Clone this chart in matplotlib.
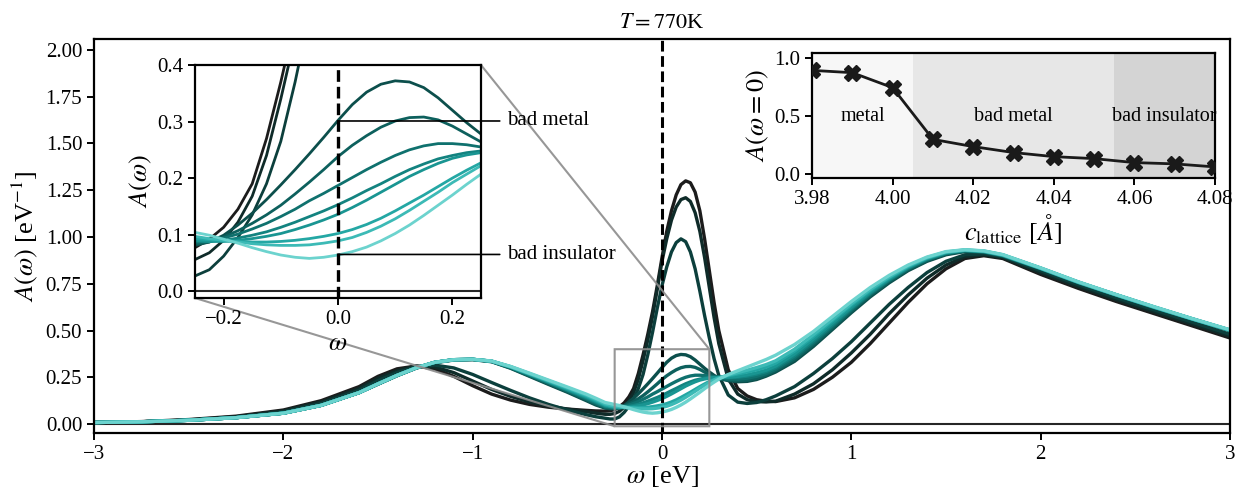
import numpy as np
import matplotlib
matplotlib.use('Agg')
import matplotlib.pyplot as plt

plt.rcParams['font.family'] = 'serif'
plt.rcParams['font.serif'] = ['Liberation Serif', 'DejaVu Serif']
plt.rcParams['mathtext.fontset'] = 'stix'

# frequency grid [eV]
omega = [-3.0, -2.75, -2.5, -2.25, -2.0, -1.8, -1.6,
         -1.5, -1.4, -1.3, -1.2, -1.1, -1.0, -0.9, -0.8, -0.7, -0.6, -0.5, -0.4, -0.35,
         -0.3, -0.275, -0.25, -0.225, -0.2, -0.175, -0.15, -0.125, -0.1, -0.075, -0.05, -0.025,
         0.0, 0.025, 0.05, 0.075, 0.1, 0.125, 0.15, 0.175, 0.2, 0.225, 0.25, 0.275, 0.3,
         0.35, 0.4, 0.45, 0.5, 0.55, 0.6,
         0.7, 0.8, 0.9, 1.0, 1.1, 1.2, 1.3, 1.4, 1.5, 1.6, 1.7, 1.8,
         2.0, 2.2, 2.4, 2.6, 2.8, 3.0]

# spectral functions, one per lattice constant
A_398 = [0.008, 0.013, 0.024, 0.042, 0.075, 0.125, 0.2,
         0.255, 0.295, 0.31, 0.295, 0.255, 0.205, 0.16, 0.128, 0.105, 0.09, 0.08, 0.073, 0.07,
         0.069, 0.071, 0.077, 0.092, 0.113, 0.145, 0.19, 0.27, 0.37, 0.48, 0.6, 0.74,
         0.89, 1.03, 1.14, 1.225, 1.28, 1.3, 1.29, 1.24, 1.14, 0.99, 0.82, 0.65, 0.5,
         0.29, 0.19, 0.15, 0.13, 0.122, 0.12,
         0.14, 0.185, 0.25, 0.33, 0.43, 0.54, 0.65, 0.75, 0.83, 0.885, 0.9, 0.885,
         0.8, 0.725, 0.655, 0.59, 0.525, 0.46]
A_399 = [0.008, 0.012, 0.022, 0.039, 0.07, 0.118, 0.19,
         0.245, 0.285, 0.31, 0.305, 0.275, 0.23, 0.185, 0.148, 0.118, 0.097, 0.08, 0.066, 0.058,
         0.052, 0.052, 0.056, 0.068, 0.09, 0.122, 0.168, 0.24, 0.34, 0.45, 0.575, 0.72,
         0.87, 0.99, 1.09, 1.16, 1.2, 1.21, 1.19, 1.13, 1.03, 0.89, 0.73, 0.57, 0.43,
         0.24, 0.16, 0.13, 0.12, 0.118, 0.122,
         0.16, 0.215, 0.29, 0.38, 0.48, 0.59, 0.69, 0.78, 0.85, 0.895, 0.905, 0.89,
         0.81, 0.735, 0.665, 0.6, 0.535, 0.47]
A_400 = [0.008, 0.012, 0.021, 0.036, 0.065, 0.11, 0.18,
         0.232, 0.275, 0.305, 0.315, 0.3, 0.265, 0.222, 0.18, 0.14, 0.105, 0.075, 0.05, 0.039,
         0.031, 0.027, 0.027, 0.038, 0.062, 0.095, 0.135, 0.19, 0.265, 0.37, 0.49, 0.62,
         0.74, 0.84, 0.92, 0.97, 0.99, 0.975, 0.92, 0.83, 0.71, 0.58, 0.46, 0.35, 0.26,
         0.155, 0.117, 0.11, 0.115, 0.13, 0.15,
         0.2, 0.27, 0.35, 0.44, 0.54, 0.64, 0.73, 0.81, 0.87, 0.905, 0.91, 0.895,
         0.82, 0.745, 0.675, 0.61, 0.545, 0.48]
A_401 = [0.008, 0.012, 0.02, 0.034, 0.058, 0.1, 0.168,
         0.213, 0.258, 0.298, 0.328, 0.342, 0.344, 0.333, 0.298, 0.255, 0.212, 0.17, 0.125, 0.102,
         0.085, 0.082, 0.081, 0.087, 0.099, 0.117, 0.138, 0.162, 0.188, 0.215, 0.243, 0.272,
         0.302, 0.33, 0.352, 0.366, 0.372, 0.37, 0.36, 0.342, 0.32, 0.298, 0.278, 0.26, 0.246,
         0.232, 0.226, 0.228, 0.238, 0.256, 0.278,
         0.335, 0.415, 0.505, 0.595, 0.68, 0.755, 0.82, 0.87, 0.905, 0.922, 0.918, 0.898,
         0.83, 0.755, 0.688, 0.622, 0.56, 0.5]
A_402 = [0.008, 0.012, 0.02, 0.034, 0.058, 0.1, 0.168,
         0.214, 0.259, 0.299, 0.329, 0.343, 0.345, 0.334, 0.3, 0.258, 0.216, 0.174, 0.13, 0.107,
         0.088, 0.085, 0.083, 0.087, 0.096, 0.107, 0.12, 0.135, 0.152, 0.172, 0.193, 0.215,
         0.238, 0.258, 0.275, 0.29, 0.301, 0.307, 0.308, 0.303, 0.292, 0.278, 0.264, 0.252, 0.242,
         0.235, 0.232, 0.235, 0.245, 0.262, 0.285,
         0.345, 0.425, 0.513, 0.603, 0.688, 0.762, 0.826, 0.875, 0.909, 0.925, 0.92, 0.9,
         0.831, 0.756, 0.689, 0.623, 0.561, 0.5]
A_403 = [0.008, 0.012, 0.02, 0.034, 0.058, 0.1, 0.168,
         0.214, 0.259, 0.3, 0.33, 0.344, 0.346, 0.335, 0.302, 0.261, 0.22, 0.178, 0.135, 0.112,
         0.091, 0.088, 0.086, 0.088, 0.094, 0.101, 0.11, 0.12, 0.132, 0.145, 0.16, 0.173,
         0.187, 0.201, 0.215, 0.228, 0.24, 0.25, 0.257, 0.261, 0.261, 0.259, 0.255, 0.25, 0.245,
         0.24, 0.24, 0.245, 0.255, 0.27, 0.293,
         0.355, 0.435, 0.522, 0.611, 0.695, 0.768, 0.831, 0.879, 0.912, 0.927, 0.921, 0.901,
         0.832, 0.757, 0.69, 0.624, 0.562, 0.501]
A_404 = [0.008, 0.012, 0.02, 0.034, 0.058, 0.1, 0.168,
         0.215, 0.26, 0.3, 0.33, 0.344, 0.346, 0.336, 0.304, 0.264, 0.224, 0.182, 0.14, 0.117,
         0.095, 0.092, 0.088, 0.088, 0.09, 0.094, 0.099, 0.105, 0.113, 0.122, 0.132, 0.142,
         0.153, 0.165, 0.178, 0.19, 0.203, 0.215, 0.225, 0.234, 0.24, 0.245, 0.248, 0.25, 0.25,
         0.248, 0.25, 0.256, 0.266, 0.28, 0.302,
         0.365, 0.445, 0.53, 0.618, 0.7, 0.772, 0.834, 0.882, 0.914, 0.928, 0.922, 0.902,
         0.832, 0.757, 0.69, 0.624, 0.562, 0.501]
A_405 = [0.008, 0.012, 0.02, 0.034, 0.058, 0.1, 0.168,
         0.215, 0.26, 0.3, 0.33, 0.344, 0.346, 0.336, 0.305, 0.266, 0.226, 0.185, 0.145, 0.122,
         0.099, 0.094, 0.09, 0.088, 0.088, 0.09, 0.093, 0.097, 0.102, 0.109, 0.117, 0.126,
         0.136, 0.148, 0.161, 0.175, 0.189, 0.203, 0.215, 0.226, 0.235, 0.241, 0.245, 0.248, 0.25,
         0.25, 0.255, 0.263, 0.274, 0.288, 0.31,
         0.375, 0.455, 0.54, 0.625, 0.706, 0.777, 0.838, 0.885, 0.916, 0.929, 0.923, 0.903,
         0.833, 0.758, 0.69, 0.625, 0.562, 0.502]
A_406 = [0.008, 0.012, 0.02, 0.034, 0.058, 0.1, 0.168,
         0.215, 0.26, 0.3, 0.33, 0.344, 0.346, 0.336, 0.306, 0.268, 0.229, 0.19, 0.15, 0.127,
         0.103, 0.097, 0.093, 0.091, 0.089, 0.088, 0.087, 0.087, 0.088, 0.09, 0.093, 0.097,
         0.102, 0.109, 0.118, 0.129, 0.142, 0.156, 0.17, 0.185, 0.2, 0.214, 0.227, 0.238, 0.247,
         0.258, 0.268, 0.278, 0.29, 0.304, 0.325,
         0.39, 0.468, 0.552, 0.636, 0.714, 0.783, 0.842, 0.888, 0.918, 0.93, 0.924, 0.904,
         0.833, 0.758, 0.691, 0.625, 0.563, 0.502]
A_407 = [0.008, 0.012, 0.02, 0.034, 0.058, 0.1, 0.168,
         0.215, 0.26, 0.3, 0.33, 0.344, 0.346, 0.336, 0.307, 0.27, 0.232, 0.194, 0.155, 0.132,
         0.108, 0.102, 0.097, 0.093, 0.09, 0.087, 0.084, 0.082, 0.081, 0.081, 0.082, 0.085,
         0.089, 0.095, 0.104, 0.115, 0.128, 0.143, 0.159, 0.175, 0.192, 0.207, 0.222, 0.235, 0.246,
         0.262, 0.275, 0.288, 0.302, 0.318, 0.338,
         0.4, 0.478, 0.56, 0.643, 0.72, 0.787, 0.845, 0.89, 0.92, 0.931, 0.925, 0.905,
         0.834, 0.759, 0.691, 0.626, 0.563, 0.503]
A_408 = [0.008, 0.012, 0.02, 0.034, 0.058, 0.1, 0.168,
         0.215, 0.26, 0.3, 0.33, 0.344, 0.346, 0.337, 0.308, 0.272, 0.235, 0.198, 0.16, 0.138,
         0.115, 0.11, 0.104, 0.099, 0.092, 0.085, 0.077, 0.07, 0.064, 0.06, 0.058, 0.06,
         0.064, 0.07, 0.078, 0.089, 0.102, 0.117, 0.134, 0.152, 0.17, 0.189, 0.207, 0.224, 0.24,
         0.265, 0.285, 0.305, 0.325, 0.345, 0.368,
         0.425, 0.495, 0.575, 0.655, 0.73, 0.795, 0.85, 0.893, 0.922, 0.932, 0.926, 0.906,
         0.835, 0.76, 0.692, 0.627, 0.564, 0.504]

spectra = [A_398, A_399, A_400, A_401, A_402, A_403, A_404, A_405, A_406, A_407, A_408]

# A(omega=0) vs lattice constant
c_lattice = [3.98, 3.99, 4.00, 4.01, 4.02, 4.03, 4.04, 4.05, 4.06, 4.07, 4.08]
a_zero = [0.892, 0.872, 0.744, 0.301, 0.239, 0.188, 0.153, 0.136, 0.102, 0.091, 0.065]

colors = ['#1c1c1c', '#0f2b29', '#0c3f3c', '#0c4f4c', '#0d605d', '#0f716e',
          '#138380', '#199592', '#24a7a4', '#3cbab6', '#6cd3ce']

dash = (0, (3.5, 1.5))
tick_fs = 15
label_fs = 19

fig = plt.figure(figsize=(12.39, 5.0), dpi=100)
ax = fig.add_axes([0.0759, 0.134, 0.9168, 0.7874])

for A, col in zip(spectra, colors):
    ax.plot(omega, A, color=col, lw=2.4)
ax.axhline(0, color='0.15', lw=1.5, zorder=1)
ax.axvline(0, color='k', ls=dash, lw=2.2)
ax.set_xlim(-3, 3)
ax.set_ylim(-0.048, 2.057)
ax.set_yticks(np.arange(0, 2.01, 0.25))
ax.set_yticklabels(['%.2f' % v for v in np.arange(0, 2.01, 0.25)])
ax.set_xlabel(r'$\omega$ [eV]', fontsize=label_fs, labelpad=0)
ax.set_ylabel(r'$A(\omega)$ [eV$^{-1}$]', fontsize=label_fs, labelpad=4)
ax.set_title(r'$T=770$K', fontsize=16, pad=8)
ax.tick_params(labelsize=tick_fs, width=1.4, length=5)
for s in ax.spines.values():
    s.set_linewidth(1.6)

# zoomed inset around the Fermi level
axin = fig.add_axes([0.1574, 0.404, 0.2308, 0.466])
for A, col in zip(spectra, colors):
    axin.plot(omega, A, color=col, lw=2.0)
axin.axhline(0, color='0.15', lw=1.5)
axin.axvline(0, color='k', ls=dash, lw=2.4)
axin.set_xlim(-0.25, 0.25)
axin.set_ylim(-0.012, 0.4)
axin.set_xticks([-0.2, 0.0, 0.2])
axin.set_yticks([0.0, 0.1, 0.2, 0.3, 0.4])
axin.set_xlabel(r'$\omega$', fontsize=label_fs, labelpad=3)
axin.set_ylabel(r'$A(\omega)$', fontsize=label_fs, labelpad=2)
axin.tick_params(labelsize=tick_fs, width=1.4, length=5)
for s in axin.spines.values():
    s.set_linewidth(1.6)
axin.annotate('bad metal', xy=(0, a_zero[3]), xytext=(0.295, a_zero[3]),
              fontsize=15, va='center', annotation_clip=False,
              arrowprops=dict(arrowstyle='-', color='k', lw=1.2, shrinkA=3, shrinkB=0))
axin.annotate('bad insulator', xy=(0, a_zero[-1]), xytext=(0.295, a_zero[-1]),
              fontsize=15, va='center', annotation_clip=False,
              arrowprops=dict(arrowstyle='-', color='k', lw=1.2, shrinkA=3, shrinkB=0))
ax.indicate_inset_zoom(axin, edgecolor='0.55', lw=1.5, alpha=0.9)

# A(0) vs lattice constant inset
ax2 = fig.add_axes([0.6554, 0.644, 0.3252, 0.251])
ax2.axvspan(3.98, 4.005, color='#f7f7f7', lw=0)
ax2.axvspan(4.005, 4.055, color='#e7e7e7', lw=0)
ax2.axvspan(4.055, 4.08, color='#d4d4d4', lw=0)
ax2.plot(c_lattice, a_zero, color='#1a1a1a', lw=2, marker='X', ms=12, zorder=3)
ax2.text(3.9925, 0.5, 'metal', ha='center', va='center', fontsize=14.5)
ax2.text(4.03, 0.5, 'bad metal', ha='center', va='center', fontsize=14.5)
ax2.text(4.0675, 0.5, 'bad insulator', ha='center', va='center', fontsize=14.5)
ax2.set_xlim(3.98, 4.08)
ax2.set_ylim(-0.03, 1.045)
ax2.set_xticks([3.98, 4.00, 4.02, 4.04, 4.06, 4.08])
ax2.set_yticks([0.0, 0.5, 1.0])
ax2.set_xlabel(r'$c_{\mathrm{lattice}}$ [$\AA$]', fontsize=label_fs, labelpad=2)
ax2.set_ylabel(r'$A(\omega=0)$', fontsize=label_fs, labelpad=2)
ax2.tick_params(labelsize=tick_fs, width=1.4, length=5)
for s in ax2.spines.values():
    s.set_linewidth(1.6)

fig.savefig('out.png', dpi=100)
